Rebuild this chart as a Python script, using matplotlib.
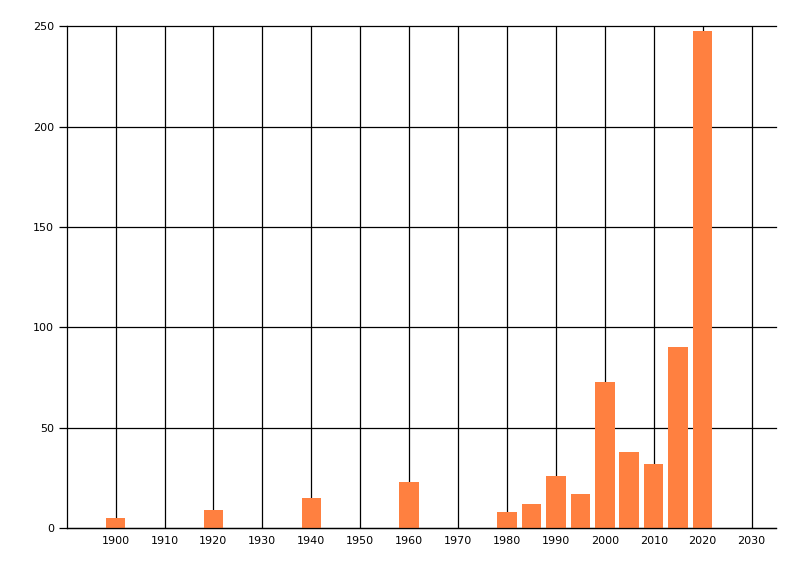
import matplotlib
matplotlib.use("Agg")
import matplotlib.pyplot as plt

# decade / half-decade bins and counts
years = [1900, 1920, 1940, 1960, 1980, 1985, 1990, 1995, 2000, 2005, 2010, 2015, 2020]
counts = [5, 9, 15, 23, 8, 12, 26, 17, 73, 38, 32, 90, 248]
x_ticks = list(range(1900, 2031, 10))
y_ticks = [0, 50, 100, 150, 200, 250]

fig = plt.figure(figsize=(8, 5.76), dpi=100)
ax = fig.add_axes([66.7 / 800, 1 - 528 / 576, (776 - 66.7) / 800, (528 - 26.5) / 576])

ax.set_axisbelow(True)
ax.bar(years, counts, width=4, color="#FF8040", zorder=2)

ax.set_xlim(1890, 2035)
ax.set_ylim(0, 250)
ax.set_xticks(x_ticks)
ax.set_yticks(y_ticks)
ax.grid(True, color="black", linewidth=0.9)
# keep the 250 line from being clipped in half at the top edge
for line in ax.yaxis.get_gridlines():
    line.set_clip_on(False)

for s in ["top", "right"]:
    ax.spines[s].set_visible(False)
ax.spines["left"].set_linewidth(0.9)
ax.spines["bottom"].set_linewidth(0.9)

ax.tick_params(axis="x", length=0, pad=6, labelsize=8)
ax.tick_params(axis="y", length=6, width=0.9, pad=3, labelsize=8)

fig.savefig("out.png", dpi=100)
